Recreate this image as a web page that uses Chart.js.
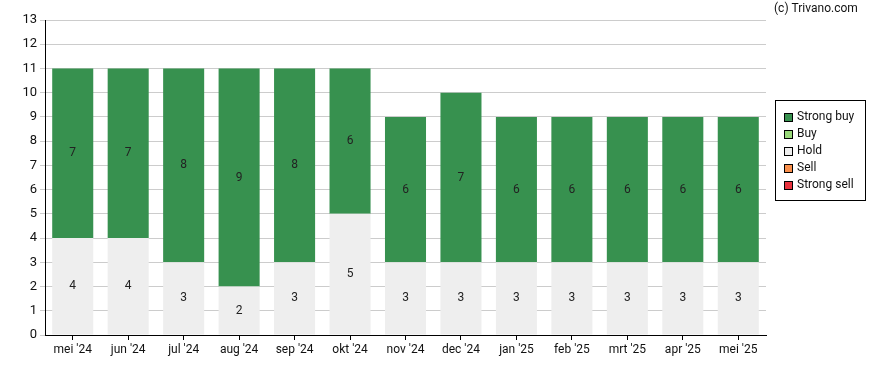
<!DOCTYPE html>
<html>
<head>
<meta charset="utf-8">
<script src="https://cdn.jsdelivr.net/npm/chart.js@4"></script>
<style>
  html, body { margin: 0; padding: 0; background: #fff; }
  #wrap { width: 888px; height: 370px; position: relative; }
</style>
</head>
<body>
<div id="wrap"><canvas id="recChart"></canvas></div>
<script>
const months = ["mei '24", "jun '24", "jul '24", "aug '24", "sep '24", "okt '24", "nov '24", "dec '24", "jan '25", "feb '25", "mrt '25", "apr '25", "mei '25"];
const strongBuy = [7, 7, 8, 9, 8, 6, 6, 7, 6, 6, 6, 6, 6];
const buy = [0, 0, 0, 0, 0, 0, 0, 0, 0, 0, 0, 0, 0];
const hold = [4, 4, 3, 2, 3, 5, 3, 3, 3, 3, 3, 3, 3];
const sell = [0, 0, 0, 0, 0, 0, 0, 0, 0, 0, 0, 0, 0];
const strongSell = [0, 0, 0, 0, 0, 0, 0, 0, 0, 0, 0, 0, 0];

Chart.defaults.font.family = 'Roboto, sans-serif';
Chart.defaults.color = '#111';

// value labels in the middle of each segment
const barLabels = {
    id: 'barLabels',
    afterDatasetsDraw(chart) {
        const ctx = chart.ctx;
        ctx.save();
        ctx.font = '12px Roboto, sans-serif';
        ctx.fillStyle = '#222';
        ctx.textAlign = 'center';
        ctx.textBaseline = 'middle';
        chart.data.datasets.forEach((ds, i) => {
            const meta = chart.getDatasetMeta(i);
            meta.data.forEach((bar, j) => {
                const v = ds.data[j];
                if (!v) return;
                ctx.fillText(String(v), bar.x, (bar.y + bar.base) / 2);
            });
        });
        ctx.restore();
    }
};

// boxed legend on the right (top item first) and the copyright line
const extras = {
    id: 'extras',
    afterDraw(chart) {
        const ctx = chart.ctx;
        ctx.save();
        ctx.strokeStyle = '#000';
        ctx.lineWidth = 1;
        ctx.strokeRect(775.5, 100.5, 90, 100);
        ctx.font = '12px Roboto, sans-serif';
        ctx.textAlign = 'left';
        ctx.textBaseline = 'middle';
        const items = chart.data.datasets.slice().reverse();
        items.forEach((ds, i) => {
            const cy = 117 + i * 17;
            ctx.fillStyle = ds.backgroundColor;
            ctx.fillRect(784, cy - 4, 8, 8);
            ctx.strokeRect(784.5, cy - 3.5, 8, 8);
            ctx.fillStyle = '#111';
            ctx.fillText(ds.label, 797, cy);
        });
        ctx.fillText('(c) Trivano.com', 774, 9);
        ctx.restore();
    }
};

new Chart(document.getElementById('recChart'), {
    type: 'bar',
    data: {
        labels: months,
        datasets: [
            { label: 'Strong sell', data: strongSell, backgroundColor: '#e8323e' },
            { label: 'Sell', data: sell, backgroundColor: '#f98f4b' },
            { label: 'Hold', data: hold, backgroundColor: '#eeeeee' },
            { label: 'Buy', data: buy, backgroundColor: '#99d97a' },
            { label: 'Strong buy', data: strongBuy, backgroundColor: '#37914f' }
        ]
    },
    options: {
        responsive: true,
        maintainAspectRatio: false,
        animation: false,
        datasets: {
            bar: { barPercentage: 0.74, categoryPercentage: 1, borderWidth: 0 }
        },
        layout: { padding: { top: 20, right: 122, left: 0, bottom: 0 } },
        plugins: {
            tooltip: { enabled: false },
            legend: { display: false }
        },
        scales: {
            x: {
                stacked: true,
                grid: { display: true, drawOnChartArea: false, offset: false, tickLength: 5, color: '#000' },
                border: { color: '#000', width: 1 },
                ticks: { font: { size: 12 }, color: '#111', maxRotation: 0, padding: 3 },
                afterFit(scale) { scale.height = 35; }
            },
            y: {
                stacked: true,
                min: 0,
                max: 13,
                grid: { color: '#cccccc', tickLength: 5 },
                border: { color: '#000', width: 1 },
                ticks: { stepSize: 1, font: { size: 13 }, color: '#111', padding: 3 },
                afterFit(scale) { scale.width = 45; }
            }
        }
    },
    plugins: [barLabels, extras]
});
</script>
</body>
</html>
